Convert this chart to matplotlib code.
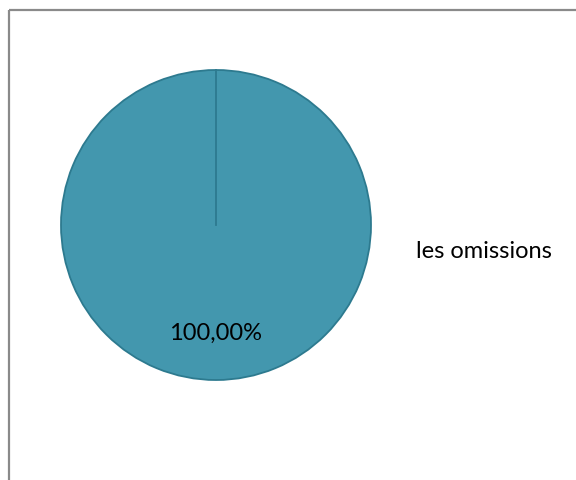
import matplotlib.pyplot as plt

W, H = 576, 481
labels = ["les omissions"]
values = [100.0]

fig = plt.figure(figsize=(W / 100, H / 100), dpi=100)
ax = fig.add_axes([0, 0, 1, 1])

cx, cy, r = 216, H - 226, 155
wedges, texts, autotexts = ax.pie(
    values, center=(cx, cy), radius=r, startangle=90, counterclock=False,
    colors=["#4397ae"], wedgeprops=dict(edgecolor="#2d7a8f", linewidth=1.3),
    autopct=lambda p: f"{p:.2f}%".replace(".", ","), pctdistance=0.69,
    textprops=dict(family="Lato", fontsize=17, color="black"),
    frame=True,
)
ax.set_xlim(0, W)
ax.set_ylim(0, H)
ax.set_aspect("equal")
ax.set_axis_off()

# radial seam of the single slice
ax.plot([cx, cx], [cy, cy + r], color="#2d7a8f", lw=1.3)

ax.text(416, H - 251, labels[0], family="Lato", fontsize=17,
        va="center", ha="left")

# chart frame (only top and left edges visible)
ax.plot([8.5, W], [H - 11, H - 11], color="#8a8a8a", lw=1.6, solid_capstyle="butt")
ax.plot([8.5, 8.5], [0, H - 11], color="#8a8a8a", lw=1.6, solid_capstyle="butt")

fig.savefig("out.png", dpi=100)
